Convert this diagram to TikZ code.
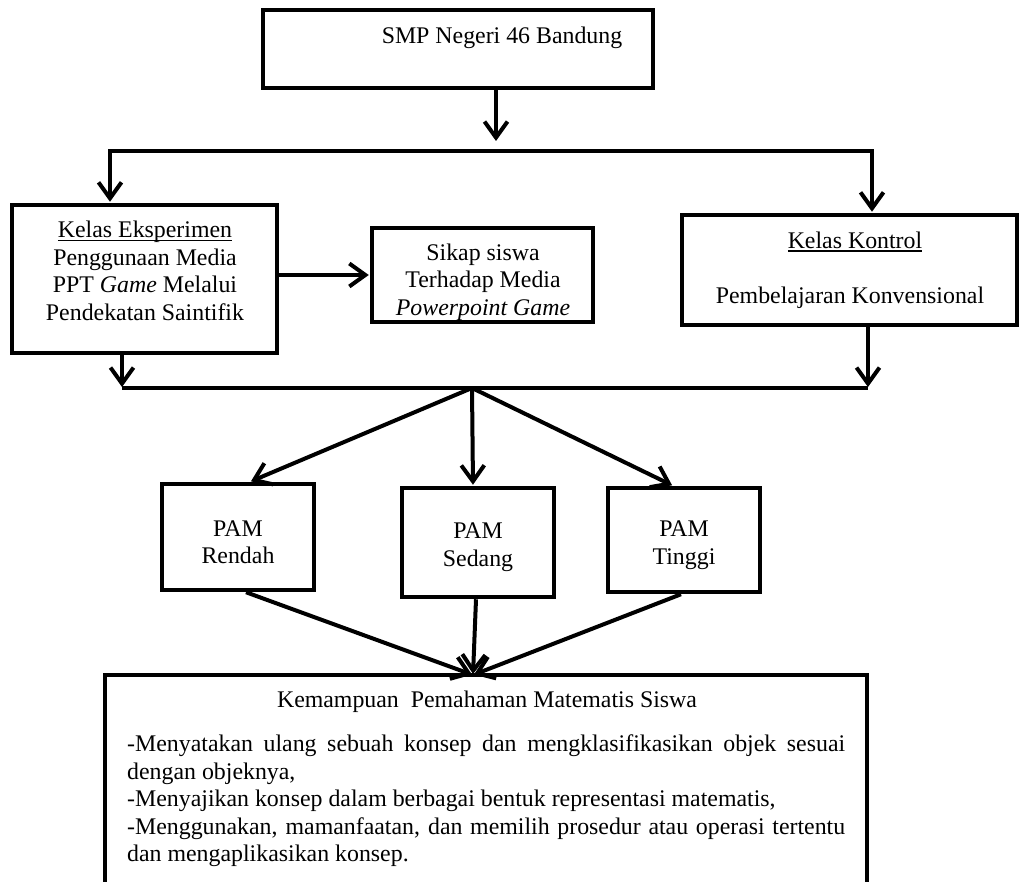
\documentclass[tikz,border=0pt]{standalone}
\usepackage{fontspec}
\setmainfont{Liberation Serif}
\usetikzlibrary{arrows.meta}
\newcommand\dfont{\fontsize{23.85}{27.5}\selectfont}
\newcommand\myul[1]{\setbox0\hbox{#1}\rlap{\rule[-3pt]{\wd0}{1.3pt}}\box0}
\tikzset{
  box/.style={draw, line width=4.5pt, inner sep=0pt},
  ln/.style={line width=4pt},
  arr/.style={line width=4pt, -{Straight Barb[length=16pt,width=23pt]}, shorten >=1pt},
  txt/.style={font=\dfont, align=center, inner sep=0pt},
}
\begin{document}
\begin{tikzpicture}[x=1pt,y=-1pt]
\useasboundingbox (0,0) rectangle (1020,882);
% boxes
\node[box, minimum width=390pt, minimum height=78pt] (smp) at (458,49) {};
\node[box, minimum width=265pt, minimum height=148pt] (eks) at (144.5,279) {};
\node[box, minimum width=221pt, minimum height=94pt] (sikap) at (482.5,275) {};
\node[box, minimum width=335pt, minimum height=110pt] (kontrol) at (849.5,270) {};
\node[box, minimum width=152pt, minimum height=106pt] (rendah) at (238,537) {};
\node[box, minimum width=152pt, minimum height=109pt] (sedang) at (478,542.5) {};
\node[box, minimum width=152pt, minimum height=104pt] (tinggi) at (684,540) {};
\node[inner sep=0pt, minimum width=762pt, minimum height=215pt] (kem) at (486,782.5) {};
\draw[line width=4.5pt] (kem.south west) -- (kem.north west) -- (kem.north east) -- (kem.south east);
% texts
\node[txt] (smpT) at (502,38) {SMP Negeri 46 Bandung};
\node[txt] (eksT) at (145,271) {\myul{Kelas Eksperimen}\\Penggunaan Media\\PPT \textit{Game} Melalui\\Pendekatan Saintifik};
\node[txt] (sikapT) at (483,282) {Sikap siswa\\Terhadap Media\\\textit{Powerpoint Game}};
\node[txt] (kontrolA) at (855,242) {\myul{Kelas Kontrol}};
\node[txt] (kontrolB) at (850,298) {Pembelajaran Konvensional};
\node[txt] (rendahT) at (238,542) {PAM\\Rendah};
\node[txt] (sedangT) at (478,547) {PAM\\Sedang};
\node[txt] (tinggiT) at (684,545) {PAM\\Tinggi};
\node[txt] (kemT) at (487,702) {Kemampuan\ \ Pemahaman Matematis Siswa};
\node[txt, anchor=north west, text width=718pt, align=justify] (kemB) at (127,735)
  {-Menyatakan ulang sebuah konsep dan mengklasifikasikan objek sesuai\linebreak dengan objeknya,\\
   -Menyajikan konsep dalam berbagai bentuk representasi matematis,\\
   -Menggunakan, mamanfaatan, dan memilih prosedur atau operasi tertentu\linebreak dan mengaplikasikan konsep.};
% connectors
\coordinate (b1) at (496,142);
\coordinate (bl) at (108,151);
\coordinate (br) at (874,151);
\coordinate (bla) at (110,151);
\coordinate (bra) at (872,151);
\draw[arr] (smp.south -| b1) -- (b1);
\draw[ln] (bl) -- (br);
\draw[arr] (bla) -- (bla |- eks.north);
\draw[arr] (bra) -- (bra |- kontrol.north);
\draw[arr] (eks.east |- sikap.west) -- (sikap.west);
\coordinate (ll) at (122,388);
\coordinate (lr) at (868,388);
\coordinate (hub) at (472,388);
\draw[ln] (ll) -- (lr);
\draw[arr] (eks.south -| ll) -- (ll);
\draw[arr] (kontrol.south -| lr) -- (lr);
\draw[arr] (hub) -- (rendah.north -| 250,0);
\draw[arr] (hub) -- (sedang.north -| 473,0);
\draw[arr] (hub) -- (tinggi.north -| 673,0);
\coordinate (conv) at (473,675);
\draw[arr] (rendah.south -| 246,0) -- (conv);
\draw[arr] (sedang.south -| 476,0) -- (conv);
\draw[arr] (tinggi.south -| 681,0) -- (conv);
\end{tikzpicture}
\end{document}
